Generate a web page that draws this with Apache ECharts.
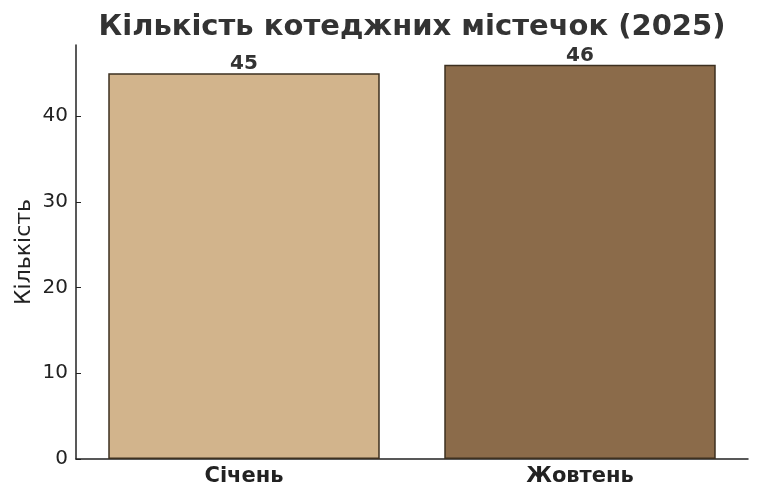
<!DOCTYPE html>
<html>
<head>
<meta charset="utf-8">
<script src="https://cdn.jsdelivr.net/npm/echarts@6/dist/echarts.min.js"></script>
<style>
  html, body { margin: 0; padding: 0; background: #fff; }
  #chart { width: 761px; height: 500px; }
</style>
</head>
<body>
<div id="chart"></div>
<script>
var months = ["Січень", "Жовтень"];
var counts = [45, 46];
var barColors = ["#D2B48C", "#8B6B4A"];
var yTicks = [0, 10, 20, 30, 40];

var gridLeft = 76, gridRight = 13, gridTop = 45, gridBottom = 41;
var plotW = 761 - gridLeft - gridRight;
var plotH = 500 - gridTop - gridBottom;

var chart = echarts.init(document.getElementById("chart"));

var option = {
  animation: false,
  textStyle: { fontFamily: "DejaVu Sans" },
  title: {
    text: "Кількість котеджних містечок (2025)",
    left: 407,
    textAlign: "center",
    top: 8,
    textStyle: { fontSize: 29, fontWeight: "bold", color: "#333333" }
  },
  grid: { left: gridLeft, right: gridRight, top: gridTop, bottom: gridBottom },
  xAxis: [
    {
      type: "category",
      data: months,
      axisLine: { lineStyle: { color: "#222", width: 1.5 } },
      axisTick: { show: false },
      axisLabel: { fontSize: 21, fontWeight: "bold", color: "#222", margin: 7 }
    },
    {
      // tick-only copy, moved onto the bottom edge so its ticks point up
      type: "category",
      data: months,
      position: "top",
      offset: -plotH,
      axisLine: { show: false },
      axisTick: { show: true, alignWithLabel: true, length: 5, lineStyle: { color: "#222" } },
      axisLabel: { show: false }
    }
  ],
  yAxis: [
    {
      type: "value",
      min: 0,
      max: 48.3,
      name: "Кількість",
      nameLocation: "middle",
      nameGap: 41,
      nameMoveOverlap: false,
      nameTextStyle: { fontSize: 22, color: "#222" },
      axisLine: { show: true, lineStyle: { color: "#222", width: 1.5 } },
      axisTick: { show: false },
      axisLabel: { fontSize: 20, color: "#222", margin: 8, customValues: yTicks },
      splitLine: { show: false }
    },
    {
      // tick-only copy, moved onto the left edge so its ticks point right
      type: "value",
      min: 0,
      max: 48.3,
      position: "right",
      offset: -plotW,
      axisLine: { show: false },
      axisTick: { show: true, length: 5, customValues: yTicks, lineStyle: { color: "#222" } },
      axisLabel: { show: false },
      splitLine: { show: false }
    }
  ],
  series: [
    {
      type: "bar",
      barWidth: "80.8%",
      data: counts.map(function(v, i) {
        return { value: v, itemStyle: { color: barColors[i] } };
      }),
      itemStyle: { borderColor: "#3d3020", borderWidth: 1.5 },
      label: {
        show: true,
        position: "top",
        distance: -1,
        fontSize: 20,
        fontWeight: "bold",
        color: "#333333"
      }
    }
  ]
};

chart.setOption(option);
</script>
</body>
</html>
